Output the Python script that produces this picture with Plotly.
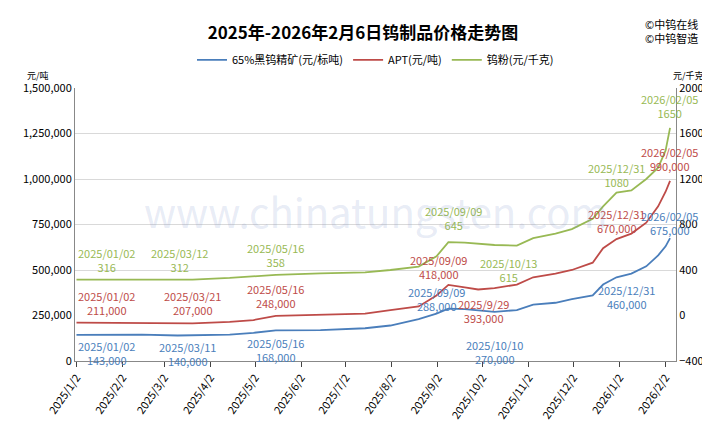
import plotly.graph_objects as go

dates = ["2025-01-02", "2025-02-15", "2025-03-11", "2025-03-21", "2025-04-15", "2025-05-01",
         "2025-05-16", "2025-06-15", "2025-07-15", "2025-08-01", "2025-08-20", "2025-09-01",
         "2025-09-09", "2025-09-20", "2025-09-29", "2025-10-10", "2025-10-25", "2025-11-05",
         "2025-11-20", "2025-12-01", "2025-12-15", "2025-12-22", "2025-12-31", "2026-01-10",
         "2026-01-20", "2026-01-28", "2026-02-02", "2026-02-05"]
ore = [143000, 145000, 140000, 141000, 145000, 155000, 168000, 170000, 180000, 195000, 230000, 260000,
       288000, 285000, 278000, 270000, 280000, 310000, 320000, 340000, 360000, 420000, 460000, 480000,
       520000, 580000, 630000, 675000]
apt = [211000, 211000, 208000, 207000, 215000, 225000, 248000, 255000, 260000, 280000, 300000, 360000,
       418000, 405000, 393000, 400000, 420000, 460000, 480000, 500000, 540000, 620000, 670000, 700000,
       760000, 850000, 930000, 990000]
powder = [316, 316, 312, 315, 330, 345, 358, 370, 380, 400, 430, 520,
          645, 640, 630, 620, 615, 680, 720, 760, 850, 960, 1080, 1100,
          1200, 1300, 1450, 1650]

tick_vals = ["2025-01-02", "2025-02-02", "2025-03-02", "2025-04-02", "2025-05-02", "2025-06-02",
             "2025-07-02", "2025-08-02", "2025-09-02", "2025-10-02", "2025-11-02", "2025-12-02",
             "2026-01-02", "2026-02-02"]
tick_text = ["2025/1/2", "2025/2/2", "2025/3/2", "2025/4/2", "2025/5/2", "2025/6/2", "2025/7/2",
             "2025/8/2", "2025/9/2", "2025/10/2", "2025/11/2", "2025/12/2", "2026/1/2", "2026/2/2"]

BLUE, RED, GREEN = "#4a7ebb", "#be4b48", "#98b954"

# label: (date, value, text, axis, yshift, color, xanchor, xshift)
labels = [
    ("2025-01-02", 143000, "2025/01/02<br>143,000", "y", -18, BLUE, "left", 0),
    ("2025-03-11", 140000, "2025/03/11<br>140,000", "y", -18, BLUE, "center", 10),
    ("2025-05-16", 168000, "2025/05/16<br>168,000", "y", -20, BLUE, "center", 0),
    ("2025-09-09", 288000, "2025/09/09<br>288,000", "y", 10, BLUE, "center", -12),
    ("2025-10-10", 270000, "2025/10/10<br>270,000", "y", -40, BLUE, "center", 0),
    ("2025-12-31", 460000, "2025/12/31<br>460,000", "y", -20, BLUE, "center", 10),
    ("2026-02-05", 675000, "2026/02/05<br>675,000", "y", 15, BLUE, "right", 30),
    ("2025-01-02", 211000, "2025/01/02<br>211,000", "y", 20, RED, "left", 0),
    ("2025-03-21", 207000, "2025/03/21<br>207,000", "y", 20, RED, "center", 0),
    ("2025-05-16", 248000, "2025/05/16<br>248,000", "y", 20, RED, "center", 0),
    ("2025-09-09", 418000, "2025/09/09<br>418,000", "y", 18, RED, "center", -10),
    ("2025-09-29", 393000, "2025/9/29<br>393,000", "y", -22, RED, "center", 5),
    ("2025-12-31", 670000, "2025/12/31<br>670,000", "y", 18, RED, "center", 0),
    ("2026-02-05", 990000, "2026/02/05<br>990,000", "y", 22, RED, "right", 30),
    ("2025-01-02", 316, "2025/01/02<br>316", "y2", 20, GREEN, "left", 0),
    ("2025-03-12", 312, "2025/03/12<br>312", "y2", 20, GREEN, "center", 0),
    ("2025-05-16", 358, "2025/05/16<br>358", "y2", 20, GREEN, "center", 0),
    ("2025-09-09", 645, "2025/09/09<br>645", "y2", 24, GREEN, "center", 5),
    ("2025-10-13", 615, "2025/10/13<br>615", "y2", -24, GREEN, "center", 10),
    ("2025-12-31", 1080, "2025/12/31<br>1080", "y2", 18, GREEN, "center", 0),
    ("2026-02-05", 1650, "2026/02/05<br>1650", "y2", 22, GREEN, "right", 30),
]

fig = go.Figure()
fig.add_trace(go.Scatter(x=dates, y=ore, mode="lines", name="65%黑钨精矿(元/标吨)",
                         line=dict(color=BLUE, width=1.8)))
fig.add_trace(go.Scatter(x=dates, y=apt, mode="lines", name="APT(元/吨)",
                         line=dict(color=RED, width=1.8)))
fig.add_trace(go.Scatter(x=dates, y=powder, mode="lines", name="钨粉(元/千克)",
                         line=dict(color=GREEN, width=1.8), yaxis="y2"))

for d, v, t, ax, ys, c, xa, xs in labels:
    fig.add_annotation(x=d, y=v, text=t, yref=ax, xref="x", showarrow=False, yshift=ys,
                       xshift=xs, font=dict(size=11, color=c), xanchor=xa)

fig.add_annotation(x=0.5, y=0.55, xref="paper", yref="paper", text="www.chinatungsten.com",
                   showarrow=False, font=dict(size=40, color="rgba(120,140,200,0.18)"))
fig.add_annotation(x=1.0, y=1.27, xref="paper", yref="paper", text="©中钨在线<br>©中钨智造",
                   showarrow=False, xanchor="right", yanchor="top", align="left", xshift=24,
                   font=dict(size=11, color="black"))
fig.add_annotation(x=0.0, y=1.0, xref="paper", yref="paper", text="元/吨", showarrow=False,
                   xanchor="left", yanchor="bottom", yshift=4, xshift=-50, font=dict(size=9))
fig.add_annotation(x=1.0, y=1.0, xref="paper", yref="paper", text="元/千克", showarrow=False,
                   xanchor="right", yanchor="bottom", yshift=4, xshift=30, font=dict(size=9))

fig.update_layout(
    width=710, height=426,
    margin=dict(l=67, r=42, t=80, b=63),
    paper_bgcolor="white", plot_bgcolor="white",
    font=dict(family="Noto Sans CJK SC", size=11, color="black"),
    title=dict(text="<b>2025年-2026年2月6日钨制品价格走势图</b>", x=0.5, y=0.955,
               font=dict(size=17)),
    legend=dict(orientation="h", x=0.5, xanchor="center", y=1.05, yanchor="bottom",
                font=dict(size=11)),
    xaxis=dict(tickvals=tick_vals, ticktext=tick_text, tickangle=-55,
               range=["2025-01-01", "2026-02-09"], showline=True, linecolor="#888",
               ticks="outside", showgrid=False),
    yaxis=dict(range=[0, 1500000], dtick=250000, tickformat=",", gridcolor="#d9d9d9",
               showline=True, linecolor="#888"),
    yaxis2=dict(range=[-400, 2000], dtick=400, overlaying="y", side="right",
                showgrid=False, showline=True, linecolor="#888"),
)

fig.write_html("out.html")
